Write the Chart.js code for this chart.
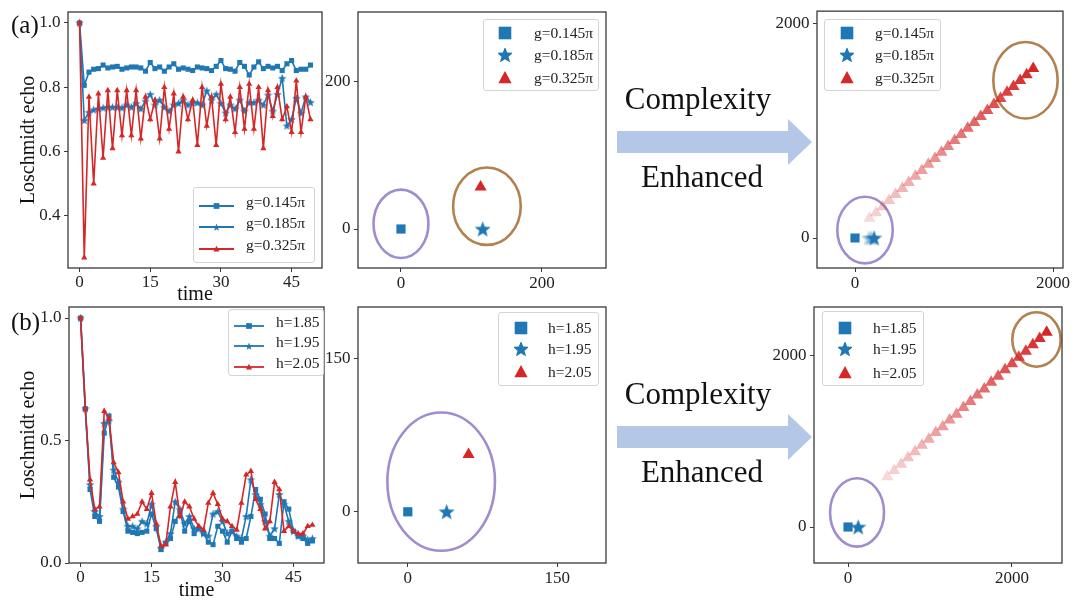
<!DOCTYPE html>
<html><head><meta charset="utf-8">
<script src="https://cdn.jsdelivr.net/npm/chart.js@4.4.0/dist/chart.umd.min.js"></script>
<style>
body{margin:0;width:1080px;height:605px;background:#fff;position:relative;overflow:hidden;font-family:"Liberation Serif","Times New Roman",serif;}
.cw{position:absolute;}
.txt{position:absolute;font-family:"Liberation Serif","Times New Roman",serif;color:#111;white-space:nowrap;}
.leg{position:absolute;background:rgba(255,255,255,0.9);border:1px solid #d4d4d4;border-radius:3px;font-family:"Liberation Serif","Times New Roman",serif;font-size:15.5px;color:#222;}
.leg .it{position:absolute;}
.leg .tx{position:absolute;height:20px;line-height:20px;white-space:nowrap;}
</style></head><body>
<svg style="position:absolute;left:0;top:0" width="1080" height="605">
 <polygon points="617,131 788,131 788,119 812,142 788,165 788,153 617,153" fill="#b4c7e7"/>
 <polygon points="617,426 788,426 788,414 812,437 788,460 788,448 617,448" fill="#b4c7e7"/>
</svg>
<div class="cw" style="left:0px;top:0px"><canvas id="a1" width="335" height="308"></canvas></div>
<div class="cw" style="left:0px;top:295px"><canvas id="b1" width="335" height="310"></canvas></div>
<div class="cw" style="left:320px;top:0px"><canvas id="a2" width="300" height="300"></canvas></div>
<div class="cw" style="left:320px;top:295px"><canvas id="b2" width="300" height="310"></canvas></div>
<div class="cw" style="left:770px;top:0px"><canvas id="a3" width="310" height="300"></canvas></div>
<div class="cw" style="left:770px;top:295px"><canvas id="b3" width="310" height="310"></canvas></div>

<div class="txt" style="left:11px;top:10px;font-size:25px;line-height:30px">(a)</div>
<div class="txt" style="left:11px;top:307px;font-size:25px;line-height:30px">(b)</div>
<div class="txt" style="left:598px;top:81px;width:200px;text-align:center;font-size:31px;line-height:36px">Complexity</div>
<div class="txt" style="left:602px;top:159px;width:200px;text-align:center;font-size:31px;line-height:36px">Enhanced</div>
<div class="txt" style="left:598px;top:376px;width:200px;text-align:center;font-size:31px;line-height:36px">Complexity</div>
<div class="txt" style="left:602px;top:454px;width:200px;text-align:center;font-size:31px;line-height:36px">Enhanced</div>

<script>
// ---------------- DATA ----------------
const times = [0,1,2,3,4,5,6,7,8,9,10,11,12,13,14,15,16,17,18,19,20,21,22,23,24,25,26,27,28,29,30,31,32,33,34,35,36,37,38,39,40,41,42,43,44,45,46,47,48,49];
const gLabels = ['g=0.145π','g=0.185π','g=0.325π'];
const hLabels = ['h=1.85','h=1.95','h=2.05'];

// (a) Loschmidt echo
const echoG145 = [1.0,0.806,0.847,0.856,0.858,0.869,0.86,0.863,0.865,0.856,0.86,0.863,0.863,0.86,0.85,0.877,0.858,0.863,0.85,0.863,0.873,0.856,0.86,0.856,0.852,0.863,0.86,0.858,0.852,0.865,0.883,0.858,0.856,0.85,0.877,0.865,0.838,0.863,0.879,0.858,0.865,0.86,0.865,0.852,0.873,0.883,0.852,0.856,0.856,0.869];
const echoG185 = [1.0,0.697,0.722,0.73,0.733,0.736,0.738,0.738,0.738,0.736,0.745,0.738,0.75,0.733,0.757,0.778,0.745,0.76,0.738,0.726,0.745,0.75,0.76,0.745,0.752,0.752,0.745,0.789,0.76,0.778,0.75,0.72,0.745,0.733,0.76,0.726,0.752,0.752,0.76,0.745,0.776,0.726,0.778,0.828,0.68,0.70,0.766,0.72,0.77,0.753];
const echoG325 = [1.0,0.27,0.77,0.50,0.78,0.58,0.79,0.61,0.79,0.65,0.79,0.65,0.79,0.64,0.77,0.70,0.76,0.64,0.80,0.67,0.78,0.60,0.77,0.70,0.76,0.62,0.80,0.68,0.77,0.62,0.81,0.70,0.77,0.66,0.80,0.67,0.81,0.67,0.80,0.61,0.79,0.71,0.80,0.70,0.74,0.66,0.82,0.66,0.77,0.70];
// (b) Loschmidt echo
const echoH185 = [1.00,0.63,0.30,0.19,0.17,0.53,0.60,0.35,0.31,0.21,0.13,0.125,0.12,0.125,0.13,0.20,0.14,0.055,0.08,0.10,0.17,0.21,0.13,0.17,0.12,0.14,0.12,0.085,0.075,0.15,0.13,0.085,0.13,0.10,0.085,0.10,0.19,0.30,0.26,0.20,0.10,0.10,0.08,0.25,0.22,0.13,0.11,0.10,0.08,0.09];
const echoH195 = [1.00,0.63,0.32,0.21,0.19,0.57,0.58,0.38,0.33,0.22,0.15,0.15,0.14,0.17,0.16,0.24,0.15,0.06,0.085,0.12,0.25,0.22,0.16,0.19,0.14,0.14,0.12,0.11,0.20,0.21,0.17,0.12,0.13,0.11,0.10,0.19,0.34,0.28,0.24,0.17,0.11,0.14,0.28,0.24,0.17,0.13,0.11,0.11,0.095,0.10];
const echoH205 = [1.00,0.63,0.34,0.22,0.23,0.62,0.59,0.41,0.37,0.25,0.18,0.19,0.20,0.25,0.22,0.285,0.16,0.07,0.075,0.23,0.33,0.19,0.25,0.23,0.18,0.15,0.135,0.245,0.285,0.24,0.18,0.17,0.15,0.135,0.245,0.36,0.375,0.26,0.22,0.14,0.17,0.33,0.30,0.13,0.15,0.13,0.12,0.12,0.15,0.155];

// middle scatter: one point per series [square, star, triangle]
const midA_x = [0, 116, 113];
const midA_y = [0, 0, 57];
const midB_x = [0, 39, 61];
const midB_y = [0, 0, 56];

// right scatter (complexity enhanced)
const rightA_sq_x = [0];
const rightA_sq_y = [0];
const rightA_star_x = [135, 160, 192];
const rightA_star_y = [0, 0, 0];
const rightA_tri_x = [145,212,280,344,410,478,542,610,675,741,808,873,940,1006,1072,1138,1205,1270,1337,1403,1469,1536,1601,1668,1734,1800];
const rightA_tri_y = [183,236,292,350,405,462,517,574,628,686,740,798,852,908,963,1021,1075,1132,1186,1243,1298,1356,1410,1467,1521,1578];
const rightB_sq_x = [0];
const rightB_sq_y = [0];
const rightB_star_x = [124];
const rightB_star_y = [0];
const rightB_tri_x = [479,563,648,732,817,901,986,1070,1155,1239,1324,1408,1493,1577,1662,1746,1831,1915,2000,2084,2169,2254,2338,2423];
const rightB_tri_y = [588,662,733,810,880,957,1027,1104,1173,1250,1320,1398,1468,1545,1614,1692,1762,1838,1908,1986,2055,2132,2204,2277];

// axis ticks
const lineXTicks = [0, 15, 30, 45];
const aYTicks = [0.4, 0.6, 0.8, 1.0];
const aYTickLabels = ['0.4', '0.6', '0.8', '1.0'];
const bYTicks = [0.0, 0.5, 1.0];
const bYTickLabels = ['0.0', '0.5', '1.0'];
const midATicks = [0, 200];
const midBTicks = [0, 150];
const rightTicks = [0, 2000];

// ------------- styling / helpers -------------
const SERIF = '"Liberation Serif", "Times New Roman", serif';
const BLUE = '#1f77b4', RED = '#d62728', PURPLE = '#a08dcf', BROWN = '#b3804e';
Chart.defaults.font.family = SERIF;

function starPath(cx, cy, R) {
  const pts = [];
  for (let k = 0; k < 10; k++) {
    const a = -Math.PI / 2 + k * Math.PI / 5, r = k % 2 ? R * 0.42 : R;
    pts.push([cx + r * Math.cos(a), cy + r * Math.sin(a)]);
  }
  return pts;
}
function starImg(size, color) {
  const c = document.createElement('canvas');
  c.width = size; c.height = size;
  const ctx = c.getContext('2d');
  ctx.fillStyle = color; ctx.beginPath();
  starPath(size / 2, size / 2 + size * 0.04, size / 2).forEach((p, i) => i ? ctx.lineTo(p[0], p[1]) : ctx.moveTo(p[0], p[1]));
  ctx.closePath(); ctx.fill();
  return c;
}

const decoPlugin = {
  id: 'deco',
  beforeDatasetsDraw(chart, args, opts) {
    const {ctx, scales: {x, y}} = chart;
    (opts.ellipses || []).forEach(e => {
      const cx = x.getPixelForValue(e.cx), cy = y.getPixelForValue(e.cy);
      const rx = Math.abs(x.getPixelForValue(e.cx + e.rx) - cx);
      const ry = Math.abs(y.getPixelForValue(e.cy + e.ry) - cy);
      ctx.save(); ctx.beginPath(); ctx.ellipse(cx, cy, rx, ry, 0, 0, Math.PI * 2);
      ctx.strokeStyle = e.color; ctx.lineWidth = 2.6; ctx.stroke(); ctx.restore();
    });
  },
  afterDraw(chart) {
    const {ctx, chartArea: a} = chart;
    ctx.save(); ctx.strokeStyle = '#3a3a3a'; ctx.lineWidth = 1.3;
    ctx.strokeRect(a.left, a.top, a.right - a.left, a.bottom - a.top); ctx.restore();
  }
};

function axis(min, max, ticks, labels, fitSize, horizontal, title, titlePad, tickPad) {
  const o = {
    type: 'linear', min, max,
    afterBuildTicks: s => { s.ticks = ticks.map(v => ({value: v})); },
    afterFit: s => { if (horizontal) s.height = fitSize; else s.width = fitSize; },
    ticks: {font: {family: SERIF, size: 17, lineHeight: horizontal ? 1.2 : 0.9}, color: '#222', padding: tickPad,
            maxRotation: 0, autoSkip: false, callback: (v, i) => labels[i]},
    grid: {display: true, drawOnChartArea: false, drawTicks: true, tickLength: 4, color: '#3a3a3a', lineWidth: 1},
    border: {display: false}
  };
  if (title) o.title = {display: true, text: title, color: '#111', font: {family: SERIF, size: 20},
                        padding: horizontal ? {top: 0, bottom: titlePad} : {top: titlePad, bottom: 0}};
  return o;
}

function makeChart(id, datasets, cfg) {
  return new Chart(document.getElementById(id), {
    type: 'line',
    data: {datasets},
    plugins: [decoPlugin],
    options: {
      responsive: false, animation: false, events: [],
      layout: {padding: cfg.pad},
      plugins: {legend: {display: false}, tooltip: {enabled: false}, deco: {ellipses: cfg.ellipses || []}},
      scales: {
        x: axis(cfg.x[0], cfg.x[1], cfg.xt, cfg.xl, cfg.xh, true, cfg.xTitle, cfg.xTitlePad, cfg.xTickPad ?? 1),
        y: axis(cfg.y[0], cfg.y[1], cfg.yt, cfg.yl, cfg.yw, false, cfg.yTitle, cfg.yTitlePad, 3.5)
      }
    }
  });
}

const smallStarBlue = starImg(9, BLUE);
function lineDs(label, vals, color, style, radius, order) {
  return {label, data: times.map((t, i) => ({x: t, y: vals[i]})), borderColor: color, backgroundColor: color,
          pointBackgroundColor: color, pointBorderColor: color, pointBorderWidth: 0, borderWidth: 1.6,
          pointStyle: style, pointRadius: radius, tension: 0, order, showLine: true};
}
function ptDs(label, xs, ys, style, radius, colors) {
  return {label, data: xs.map((v, i) => ({x: v, y: ys[i]})), showLine: false, pointStyle: style, pointRadius: radius,
          pointBackgroundColor: colors, pointBorderColor: colors, pointBorderWidth: 0, backgroundColor: colors, borderColor: colors};
}

const tickLbl = t => t.map(String);

// (a) left line chart
makeChart('a1', [
  lineDs(gLabels[0], echoG145, BLUE, 'rect', 3.6, 2),
  lineDs(gLabels[1], echoG185, BLUE, smallStarBlue, 3.5, 1),
  lineDs(gLabels[2], echoG325, RED, 'triangle', 3.6, 0)
], {pad: {left: 0, top: 12, right: 13, bottom: 0}, x: [-2.45, 51.45], y: [0.238, 1.034],
    xt: lineXTicks, xl: tickLbl(lineXTicks), yt: aYTicks, yl: aYTickLabels, xh: 40, yw: 68, xTickPad: 0,
    xTitle: 'time', xTitlePad: 1, yTitle: 'Loschmidt echo', yTitlePad: 17});

// (b) left line chart
makeChart('b1', [
  lineDs(hLabels[0], echoH185, BLUE, 'rect', 3.6, 2),
  lineDs(hLabels[1], echoH195, BLUE, smallStarBlue, 3.5, 1),
  lineDs(hLabels[2], echoH205, RED, 'triangle', 3.6, 0)
], {pad: {left: 0, top: 12, right: 11, bottom: 0}, x: [-2.45, 51.45], y: [0, 1.045],
    xt: lineXTicks, xl: tickLbl(lineXTicks), yt: bYTicks, yl: bYTickLabels, xh: 42, yw: 69, xTickPad: 0,
    xTitle: 'time', xTitlePad: 2, yTitle: 'Loschmidt echo', yTitlePad: 17});

const bigStarBlue = starImg(17, BLUE);
// (a) middle scatter
makeChart('a2', [
  ptDs(gLabels[0], [midA_x[0]], [midA_y[0]], 'rect', 6.5, BLUE),
  ptDs(gLabels[1], [midA_x[1]], [midA_y[1]], bigStarBlue, 6, BLUE),
  ptDs(gLabels[2], [midA_x[2]], [midA_y[2]], 'triangle', 7, RED)
], {pad: {left: 0, top: 12, right: 14, bottom: 0}, x: [-61, 291], y: [-53, 295],
    xt: midATicks, xl: tickLbl(midATicks), yt: midATicks, yl: tickLbl(midATicks), xh: 32, yw: 38,
    ellipses: [{cx: 0, cy: 7, rx: 39, ry: 46.5, color: PURPLE}, {cx: 122, cy: 31, rx: 48, ry: 52.6, color: BROWN}]});

// (b) middle scatter
makeChart('b2', [
  ptDs(hLabels[0], [midB_x[0]], [midB_y[0]], 'rect', 6.5, BLUE),
  ptDs(hLabels[1], [midB_x[1]], [midB_y[1]], bigStarBlue, 6, BLUE),
  ptDs(hLabels[2], [midB_x[2]], [midB_y[2]], 'triangle', 7, RED)
], {pad: {left: 0, top: 12, right: 14, bottom: 0}, x: [-50, 199], y: [-50, 200],
    xt: midBTicks, xl: tickLbl(midBTicks), yt: midBTicks, yl: tickLbl(midBTicks), xh: 42, yw: 38,
    ellipses: [{cx: 33.5, cy: 29.5, rx: 54, ry: 67.5, color: PURPLE}]});

// alpha ramps (style only)
const ramp = (n, a0, c) => Array.from({length: n}, (_, i) => `rgba(${c},${(a0 + (1 - a0) * i / (n - 1)).toFixed(3)})`);
const faintStars = [starImg(17, 'rgba(31,119,180,0.25)'), starImg(17, 'rgba(31,119,180,0.45)'), bigStarBlue];

// (a) right scatter
makeChart('a3', [
  ptDs(gLabels[0], rightA_sq_x, rightA_sq_y, 'rect', 6.5, BLUE),
  ptDs(gLabels[1], rightA_star_x, rightA_star_y, faintStars, 6, BLUE),
  ptDs(gLabels[2], rightA_tri_x, rightA_tri_y, 'triangle', 7, ramp(rightA_tri_x.length, 0.18, '214,39,40'))
], {pad: {left: 0, top: 11, right: 17, bottom: 0}, x: [-384, 2101], y: [-279, 2112],
    xt: rightTicks, xl: tickLbl(rightTicks), yt: rightTicks, yl: tickLbl(rightTicks), xh: 32, yw: 47,
    ellipses: [{cx: 101, cy: 74, rx: 280, ry: 310, color: PURPLE}, {cx: 1722, cy: 1469, rx: 325, ry: 356, color: BROWN}]});

// (b) right scatter
makeChart('b3', [
  ptDs(hLabels[0], rightB_sq_x, rightB_sq_y, 'rect', 6.5, BLUE),
  ptDs(hLabels[1], rightB_star_x, rightB_star_y, bigStarBlue, 6, BLUE),
  ptDs(hLabels[2], rightB_tri_x, rightB_tri_y, 'triangle', 7, ramp(rightB_tri_x.length, 0.18, '214,39,40'))
], {pad: {left: 0, top: 12, right: 18, bottom: 0}, x: [-415, 2610], y: [-421, 2573],
    xt: rightTicks, xl: tickLbl(rightTicks), yt: rightTicks, yl: tickLbl(rightTicks), xh: 42, yw: 44,
    ellipses: [{cx: 110, cy: 170, rx: 329, ry: 400, color: PURPLE}, {cx: 2299, cy: 2193, rx: 295, ry: 318, color: BROWN}]});

// ------------- HTML legends -------------
const NS = 'http://www.w3.org/2000/svg';
function markerSvg(kind, color, size, lineLen) {
  const w = lineLen || size, h = size;
  let s = `<svg xmlns="${NS}" width="${w}" height="${h}">`;
  const cx = w / 2, cy = h / 2;
  if (lineLen) s += `<line x1="0" y1="${cy}" x2="${w}" y2="${cy}" stroke="${color}" stroke-width="1.8"/>`;
  const m = lineLen ? 3.2 : size / 2;
  if (kind === 'sq') s += `<rect x="${cx - m * 0.9}" y="${cy - m * 0.9}" width="${m * 1.8}" height="${m * 1.8}" fill="${color}"/>`;
  if (kind === 'star') s += `<polygon points="${starPath(cx, cy + 0.5, m * 1.25).map(p => p.join(',')).join(' ')}" fill="${color}"/>`;
  if (kind === 'tri') s += `<polygon points="${cx},${cy - m} ${cx + m * 0.95},${cy + m * 0.75} ${cx - m * 0.95},${cy + m * 0.75}" fill="${color}"/>`;
  return s + '</svg>';
}
function legend(box, labels, rowsY, iconX, textX, lineLen, mSize) {
  const d = document.createElement('div');
  d.className = 'leg';
  Object.assign(d.style, {left: box[0] + 'px', top: box[1] + 'px', width: box[2] + 'px', height: box[3] + 'px'});
  const kinds = [['sq', BLUE], ['star', BLUE], ['tri', RED]];
  labels.forEach((lab, i) => {
    const it = document.createElement('div');
    it.className = 'it';
    const w = lineLen || mSize;
    it.style.left = (iconX - (lineLen ? 0 : w / 2)) + 'px';
    it.style.top = (rowsY[i] - mSize / 2) + 'px';
    it.style.height = mSize + 'px';
    it.innerHTML = markerSvg(kinds[i][0], kinds[i][1], mSize, lineLen);
    d.appendChild(it);
    const t = document.createElement('div');
    t.className = 'tx'; t.textContent = lab;
    t.style.left = textX + 'px'; t.style.top = (rowsY[i] - 10) + 'px';
    d.appendChild(t);
  });
  document.body.appendChild(d);
}
legend([193, 187, 120, 74], gLabels, [14, 35, 57], 5, 52, 35, 10);
legend([228, 309, 94, 65], hLabels, [12, 32, 53], 5, 47, 30, 10);
legend([483, 19, 114, 70], gLabels, [13, 35, 58], 21, 50, 0, 14);
legend([498, 312, 99, 72], hLabels, [15, 36, 59], 22, 49, 0, 14);
legend([824, 19, 115, 70], gLabels, [13, 35, 58], 22, 50, 0, 14);
legend([822, 311, 100, 73], hLabels, [16, 37, 61], 22, 50, 0, 14);
</script>
</body></html>
